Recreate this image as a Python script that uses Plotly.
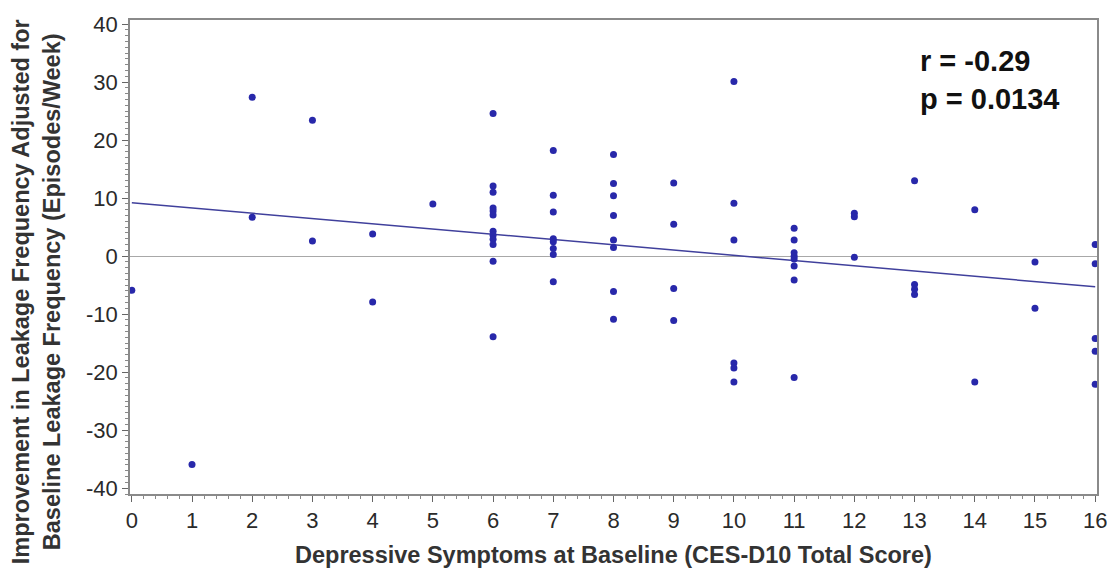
import plotly.graph_objects as go

# CES-D10 total score (x) and improvement values (y), one entry per participant
score = [0, 1,
         2, 2,
         3, 3,
         4, 4,
         5,
         6, 6, 6, 6, 6, 6, 6, 6, 6, 6, 6, 6,
         7, 7, 7, 7, 7, 7, 7, 7,
         8, 8, 8, 8, 8, 8, 8, 8,
         9, 9, 9, 9,
         10, 10, 10, 10, 10, 10,
         11, 11, 11, 11, 11, 11, 11, 11,
         12, 12, 12,
         13, 13, 13, 13,
         14, 14,
         15, 15,
         16, 16, 16, 16, 16]
improvement = [-5.9, -35.9,
               27.4, 6.7,
               23.4, 2.6,
               3.8, -7.9,
               9.0,
               24.6, 12.1, 11.0, 8.3, 7.8, 7.1, 4.3, 3.6, 2.9, 2.0, -0.9, -13.9,
               18.2, 10.5, 7.6, 3.0, 2.5, 1.3, 0.3, -4.4,
               17.5, 12.5, 10.4, 7.0, 2.8, 1.5, -6.1, -10.9,
               12.6, 5.5, -5.6, -11.1,
               30.1, 9.1, 2.8, -18.4, -19.3, -21.7,
               4.8, 2.8, 0.6, 0.0, -0.5, -1.7, -4.1, -20.9,
               7.4, 6.8, -0.2,
               13.0, -4.9, -5.7, -6.6,
               8.0, -21.7,
               -1.0, -9.0,
               2.0, -1.3, -14.2, -16.4, -22.1]

# fitted regression line
fit_intercept = 9.2
fit_slope = -0.906
fit_x = [0, 16]
fit_y = [fit_intercept + fit_slope * v for v in fit_x]

x_ticks = list(range(0, 17))
y_ticks = [-40, -30, -20, -10, 0, 10, 20, 30, 40]
y_tick_labels = ["-40", "-30", "-20", "-10", "0", "10", "20", "30", "40"]

stat_lines = ["r = -0.29", "p = 0.0134"]
x_title = "Depressive Symptoms at Baseline (CES-D10 Total Score)"
y_title_lines = ["Improvement in Leakage Frequency Adjusted for",
                 "Baseline Leakage Frequency (Episodes/Week)"]

FONT = "Liberation Sans, Arial, sans-serif"

fig = go.Figure()
fig.add_trace(go.Scatter(x=fit_x, y=fit_y, mode="lines",
                         line=dict(color="#40409c", width=1.5),
                         showlegend=False, hoverinfo="skip"))
fig.add_trace(go.Scatter(x=score, y=improvement, mode="markers",
                         marker=dict(color="#2828aa", size=7),
                         showlegend=False))

axis_font = dict(family=FONT, size=22, color="#2a2a2a")
fig.update_layout(
    width=1107, height=574,
    margin=dict(l=130, r=10, t=20, b=80),
    paper_bgcolor="white", plot_bgcolor="white",
    font=dict(family=FONT, color="#222222"),
    xaxis=dict(range=[-0.03, 16.03], tickvals=x_ticks, ticktext=[str(v) for v in x_ticks],
               ticks="outside", ticklen=6, ticklabeloverflow="allow",
               tickcolor="#666666", tickfont=axis_font, showgrid=False, zeroline=False,
               showline=True, linecolor="#8a8a8a", linewidth=1.5, mirror=True,
               automargin=False,
               minor=dict(dtick=0.2, ticks="outside", ticklen=3, tickcolor="#888888")),
    yaxis=dict(range=[-41, 40.7], tickvals=y_ticks, ticktext=y_tick_labels,
               ticks="outside", ticklen=6, ticklabeloverflow="allow",
               tickcolor="#666666", tickfont=axis_font, showgrid=False,
               zeroline=True, zerolinecolor="#a8a8a8", zerolinewidth=1,
               showline=True, linecolor="#8a8a8a", linewidth=1.5, mirror=True,
               automargin=False,
               minor=dict(dtick=1, ticks="outside", ticklen=3, tickcolor="#888888")),
    annotations=[
        dict(x=0.815, y=0.952, xref="paper", yref="paper",
             text="<b>" + "<br>".join(stat_lines) + "</b>",
             showarrow=False, xanchor="left", yanchor="top", align="left",
             font=dict(size=29, color="#111111")),
        dict(x=-0.097, y=0.426, xref="paper", yref="paper", textangle=-90,
             text="<b>" + "<br>".join(y_title_lines) + "</b>",
             showarrow=False, xanchor="center", yanchor="middle", align="center",
             font=dict(size=23.5, color="#333333")),
        dict(x=0.5, y=-0.1287, xref="paper", yref="paper",
             text="<b>" + x_title + "</b>",
             showarrow=False, xanchor="center", yanchor="middle",
             font=dict(size=23.5, color="#333333")),
    ],
)
fig.write_html("out.html", config={"displayModeBar": False},
               post_script="document.body.style.margin='0';document.body.style.padding='0';document.body.style.overflow='hidden';")
